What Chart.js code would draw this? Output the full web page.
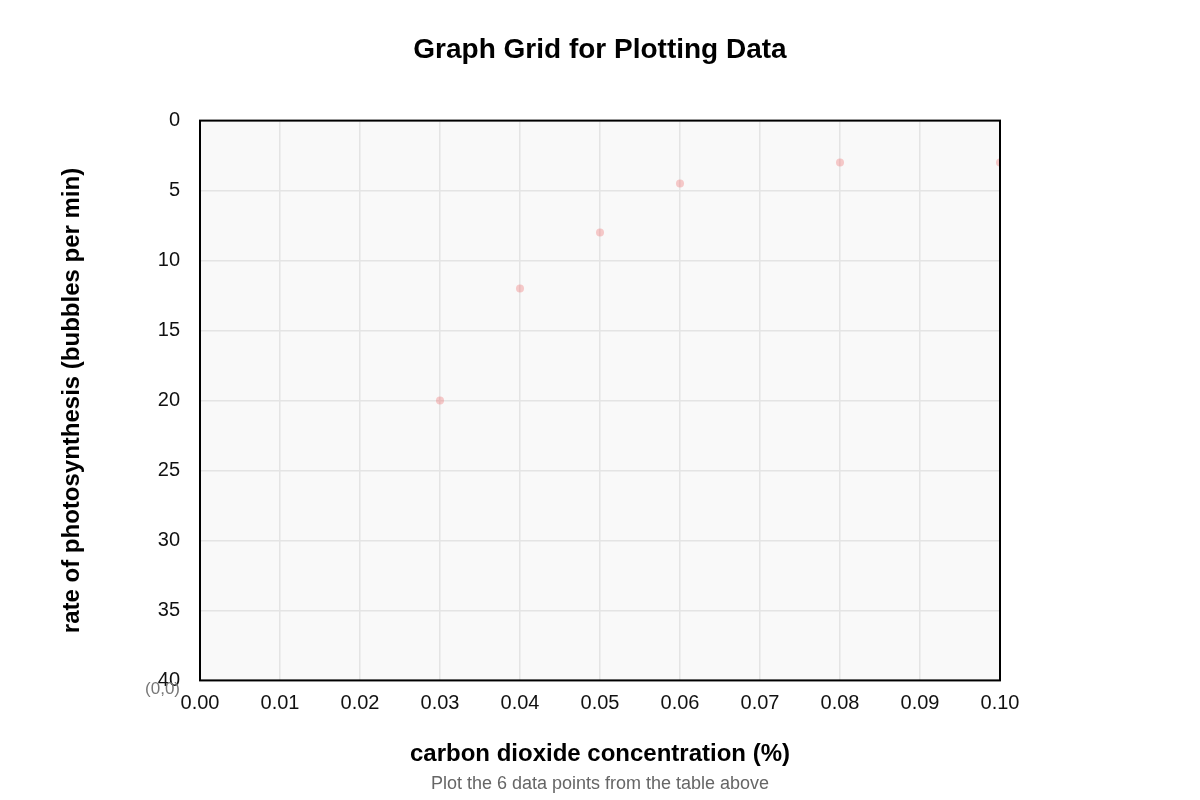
<!DOCTYPE html>
<html>
<head>
<meta charset="utf-8">
<script src="https://cdn.jsdelivr.net/npm/chart.js@4/dist/chart.umd.min.js"></script>
<style>
	body { margin: 0; background: #fff; }
	#wrap { width: 1200px; height: 800px; }
</style>
</head>
<body>
<div id="wrap"><canvas id="chart" width="1200" height="800"></canvas></div>
<script>
// carbon dioxide concentration (%) vs rate of photosynthesis (bubbles per min)
var co2 = [0.03, 0.04, 0.05, 0.06, 0.08, 0.10];
var rate = [20, 12, 8, 4.5, 3, 3];
var xTicks = [0, 0.01, 0.02, 0.03, 0.04, 0.05, 0.06, 0.07, 0.08, 0.09, 0.10];
var yTicks = [0, 5, 10, 15, 20, 25, 30, 35, 40];

var points = co2.map(function (c, i) {
	return { x: c, y: rate[i] };
});

var FONT = "'Liberation Sans', Arial, sans-serif";

var gridFrame = {
	id: 'gridFrame',
	beforeDraw: function (chart) {
		var a = chart.chartArea;
		var ctx = chart.ctx;
		ctx.save();
		ctx.fillStyle = '#f9f9f9';
		ctx.fillRect(a.left, a.top, a.right - a.left, a.bottom - a.top);
		ctx.restore();
	},
	afterDraw: function (chart) {
		var a = chart.chartArea;
		var ctx = chart.ctx;
		ctx.save();
		ctx.strokeStyle = '#000';
		ctx.lineWidth = 2;
		ctx.strokeRect(a.left, a.top, a.right - a.left, a.bottom - a.top);
		// origin label
		ctx.fillStyle = '#777';
		ctx.font = '17px ' + FONT;
		ctx.textAlign = 'right';
		ctx.textBaseline = 'middle';
		ctx.fillText('(0,0)', a.left - 20, a.bottom + 9);
		ctx.restore();
	}
};

new Chart(document.getElementById('chart'), {
	type: 'scatter',
	data: {
		datasets: [{
			data: points,
			backgroundColor: 'rgba(240,120,120,0.38)',
			borderWidth: 0,
			pointRadius: 4,
			pointHoverRadius: 4
		}]
	},
	plugins: [gridFrame],
	options: {
		responsive: false,
		animation: false,
		layout: { padding: 0 },
		plugins: {
			legend: { display: false },
			tooltip: { enabled: false },
			title: {
				display: true,
				text: 'Graph Grid for Plotting Data',
				color: '#000',
				font: { family: FONT, size: 28, weight: 'bold' },
				padding: { top: 33, bottom: 54 }
			},
			subtitle: {
				display: true,
				position: 'bottom',
				text: 'Plot the 6 data points from the table above',
				color: '#666',
				font: { family: FONT, size: 18 },
				padding: { top: 7, bottom: 5 }
			}
		},
		scales: {
			x: {
				type: 'linear',
				min: 0,
				max: 0.1,
				afterBuildTicks: function (scale) {
					scale.ticks = xTicks.map(function (v) { return { value: v }; });
				},
				afterFit: function (scale) {
					scale.height = 86;
				},
				ticks: {
					color: '#111',
					font: { family: FONT, size: 20 },
					padding: 11,
					maxRotation: 0,
					callback: function (v) { return v.toFixed(2); }
				},
				grid: { color: '#e4e4e4', lineWidth: 1.5, drawTicks: false },
				border: { display: false },
				title: {
					display: true,
					text: 'carbon dioxide concentration (%)',
					color: '#000',
					font: { family: FONT, size: 24, weight: 'bold' },
					padding: { top: 22, bottom: -2 }
				}
			},
			y: {
				type: 'linear',
				reverse: true,
				min: 0,
				max: 40,
				afterBuildTicks: function (scale) {
					scale.ticks = yTicks.map(function (v) { return { value: v }; });
				},
				afterFit: function (scale) {
					scale.width = 200;
				},
				ticks: {
					color: '#111',
					font: { family: FONT, size: 20 },
					padding: 20
				},
				grid: { color: '#e4e4e4', lineWidth: 1.5, drawTicks: false },
				border: { display: false },
				title: {
					display: true,
					text: 'rate of photosynthesis (bubbles per min)',
					color: '#000',
					font: { family: FONT, size: 24, weight: 'bold' },
					padding: { top: 58, bottom: 0 }
				}
			},
			spacer: {
				type: 'linear',
				position: 'right',
				display: true,
				ticks: { display: false },
				grid: { display: false },
				border: { display: false },
				afterFit: function (scale) {
					scale.width = 200;
				}
			}
		}
	}
});
</script>
</body>
</html>
